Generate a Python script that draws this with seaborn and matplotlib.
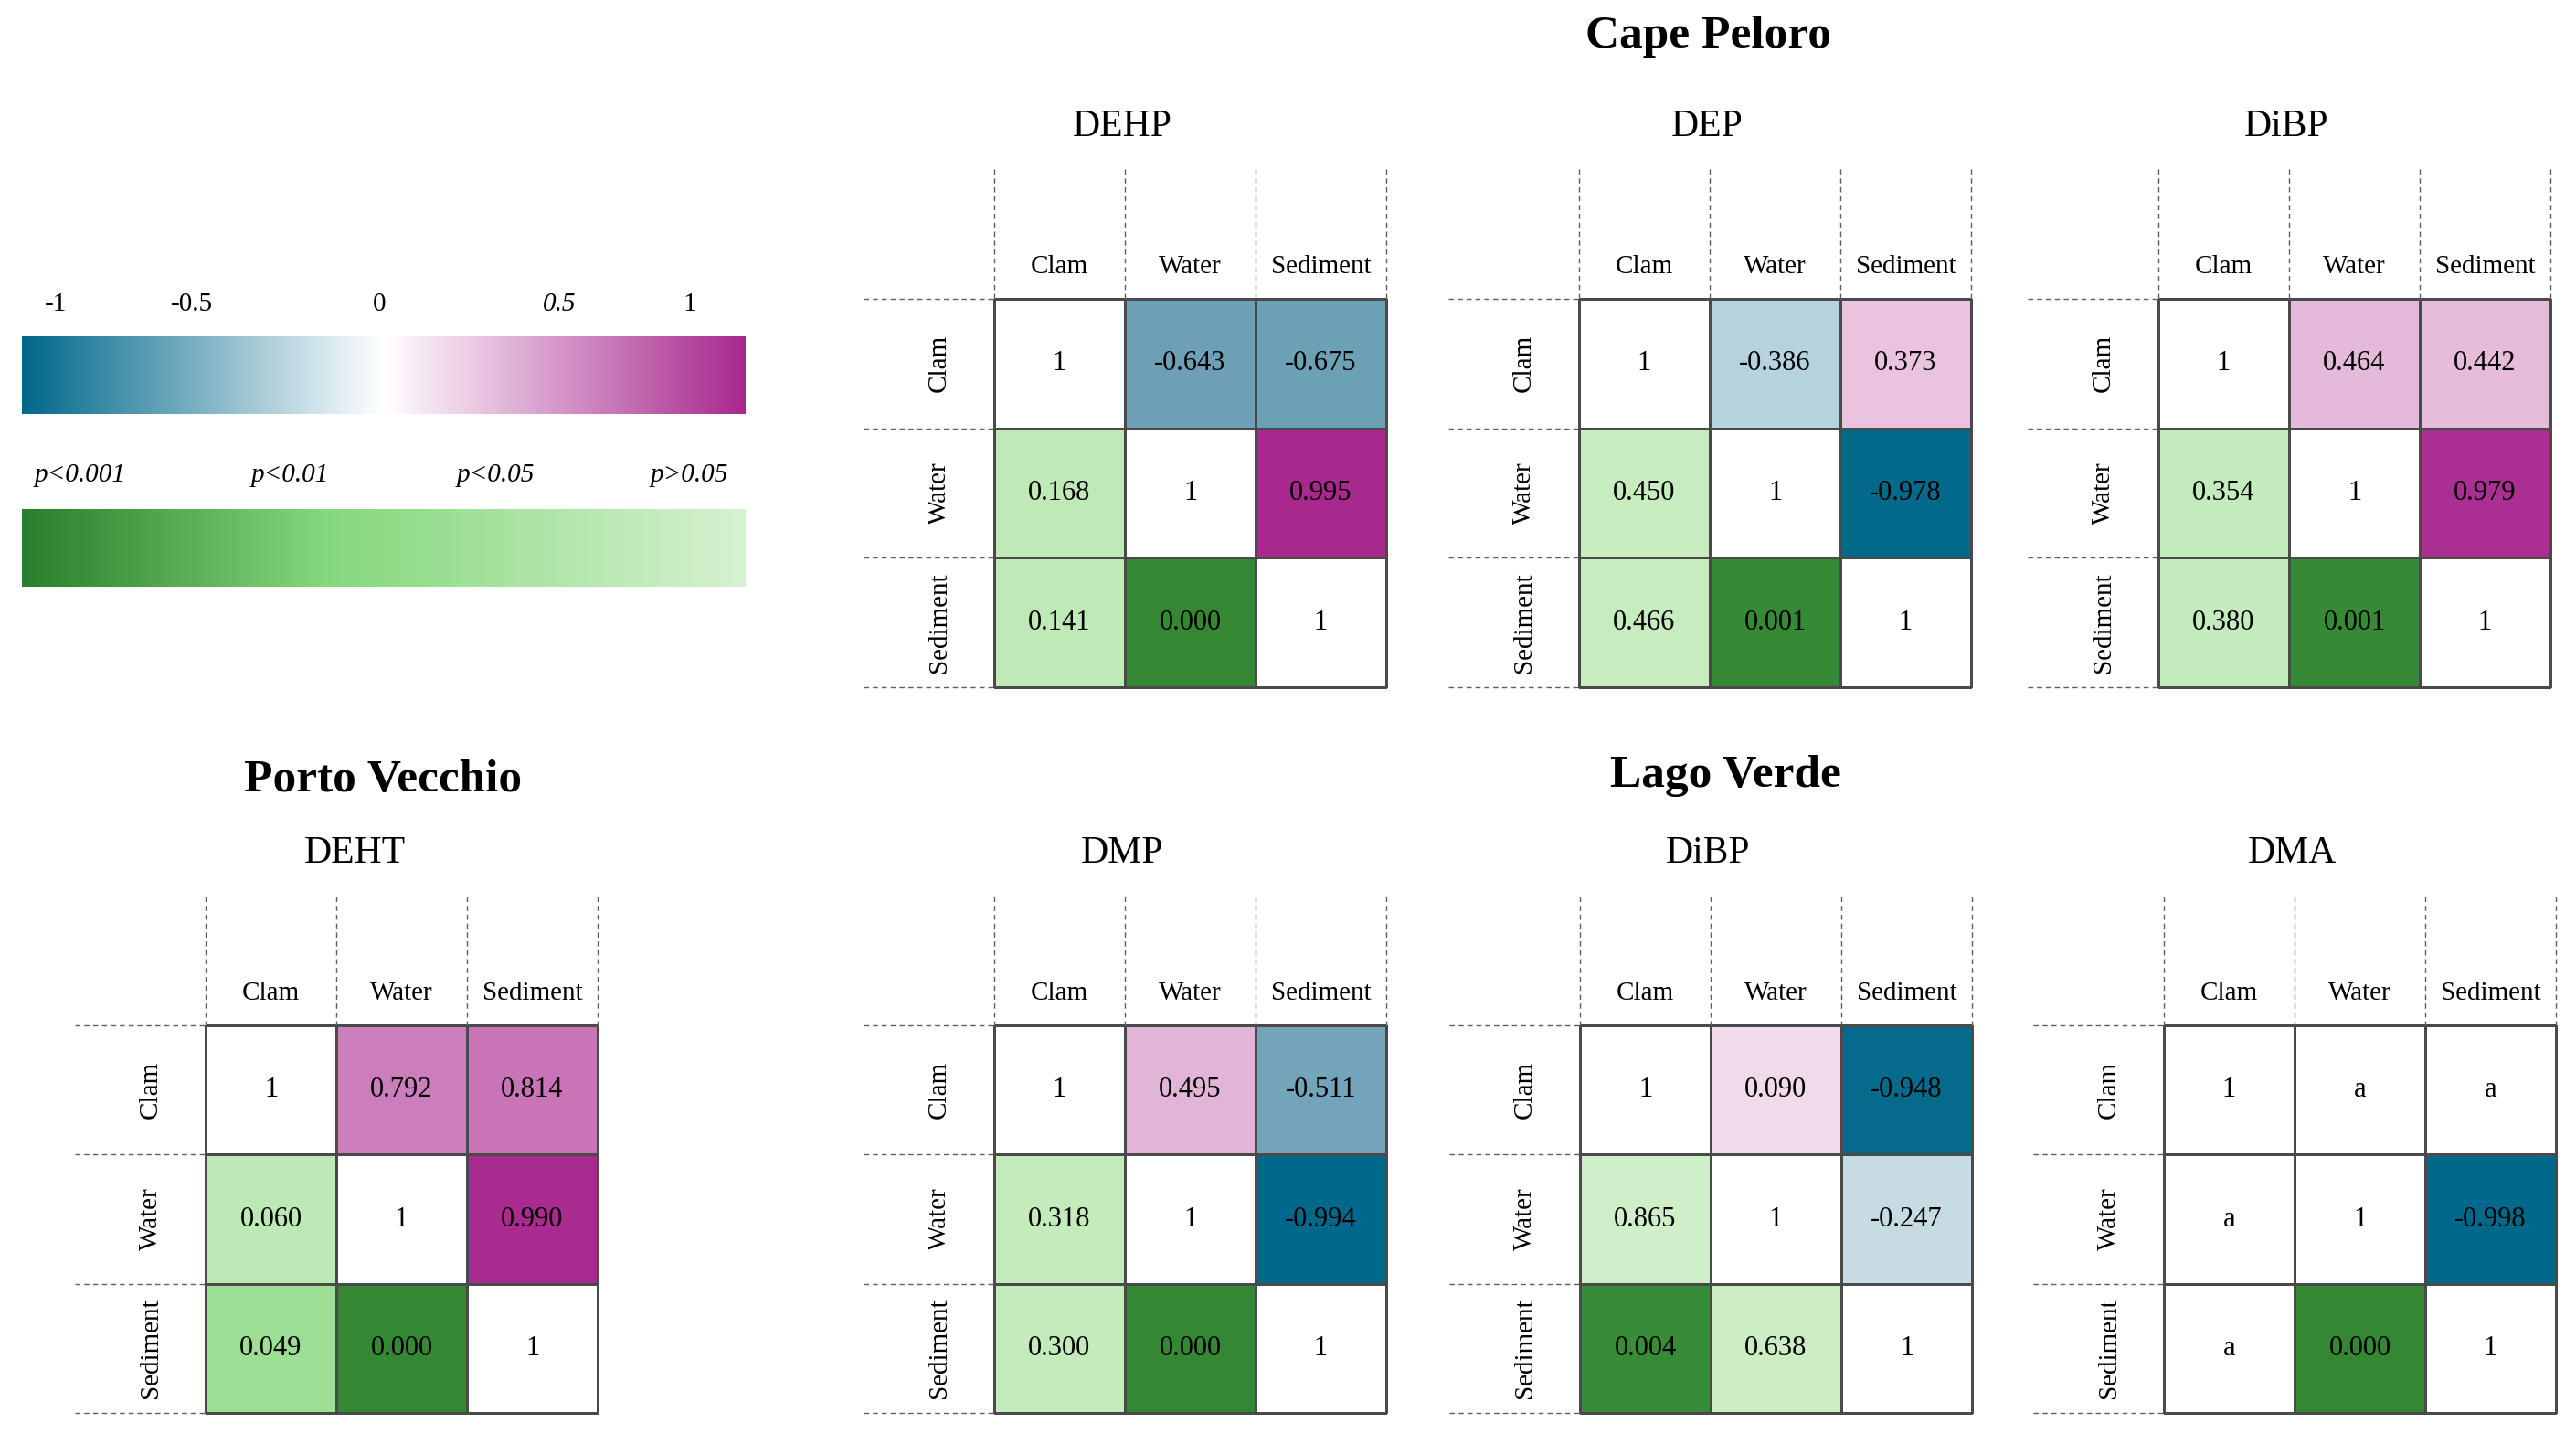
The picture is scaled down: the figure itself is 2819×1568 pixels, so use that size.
import numpy as np
import matplotlib
matplotlib.use("Agg")
import matplotlib.pyplot as plt
import seaborn as sns
from matplotlib.colors import LinearSegmentedColormap, ListedColormap, Normalize
from matplotlib.cm import ScalarMappable

# matrices: sample types
compartments = ["Clam", "Water", "Sediment"]

# correlation coefficients (upper triangle): Clam-Water, Clam-Sediment, Water-Sediment
# p-values (lower triangle): Water-Clam, Sediment-Clam, Sediment-Water
dehp_cape_r = [-0.643, -0.675, 0.995]
dehp_cape_p = [0.168, 0.141, 0.000]
dep_cape_r = [-0.386, 0.373, -0.978]
dep_cape_p = [0.450, 0.466, 0.001]
dibp_cape_r = [0.464, 0.442, 0.979]
dibp_cape_p = [0.354, 0.380, 0.001]
deht_porto_r = [0.792, 0.814, 0.990]
deht_porto_p = [0.060, 0.049, 0.000]
dmp_lago_r = [0.495, -0.511, -0.994]
dmp_lago_p = [0.318, 0.300, 0.000]
dibp_lago_r = [0.090, -0.948, -0.247]
dibp_lago_p = [0.865, 0.004, 0.638]
dma_lago_r = [np.nan, np.nan, -0.998]   # "a" = not computable
dma_lago_p = [np.nan, np.nan, 0.000]

site_titles = ["Cape Peloro", "Porto Vecchio", "Lago Verde"]
r_ticks = ["-1", "-0.5", "0", "0.5", "1"]
p_ticks = ["p<0.001", "p<0.01", "p<0.05", "p>0.05"]

panels = [
    ("DEHP", dehp_cape_r, dehp_cape_p),
    ("DEP", dep_cape_r, dep_cape_p),
    ("DiBP", dibp_cape_r, dibp_cape_p),
    ("DEHT", deht_porto_r, deht_porto_p),
    ("DMP", dmp_lago_r, dmp_lago_p),
    ("DiBP", dibp_lago_r, dibp_lago_p),
    ("DMA", dma_lago_r, dma_lago_p),
]

# layout (figure fraction) of each 3x3 grid
W, H = 2819, 1568
cell_w = 429 / W
top_b, top_h = (H - 752) / H, 425 / H
bot_b, bot_h = (H - 1546) / H, 424 / H
positions = [
    [1088 / W, top_b, cell_w, top_h],
    [1728 / W, top_b, cell_w, top_h],
    [2362 / W, top_b, cell_w, top_h],
    [225 / W, bot_b, cell_w, bot_h],
    [1088 / W, bot_b, cell_w, bot_h],
    [1729 / W, bot_b, cell_w, bot_h],
    [2368 / W, bot_b, cell_w, bot_h],
]
title_x = [0.98, 0.98, 0.98, 1.14, 0.98, 0.98, 0.98]

sns.set_theme(style="white")
plt.rcParams["font.family"] = ["Liberation Serif", "DejaVu Serif"]
plt.rcParams["text.color"] = "black"

# colour scale used for the cells (fitted to the shades in the figure)
r_cmap = LinearSegmentedColormap.from_list("r", [
    (0.0, "#00688a"), (0.05, "#0a6c8c"), (0.15, "#6a9fb5"), (0.25, "#74a4b9"),
    (0.30, "#b5d1db"), (0.375, "#c6dbe2"), (0.5, "#ffffff"), (0.55, "#f0d6e7"),
    (0.70, "#e9c2de"), (0.75, "#e2b4d7"), (0.90, "#cc7cbb"), (1.0, "#a8288e")])
# smooth gradient for the legend bar
r_cmap_legend = LinearSegmentedColormap.from_list("rl", ["#00688a", "#ffffff", "#a8288e"])
p_cmap = LinearSegmentedColormap.from_list(
    "p", [(0, "#2a7d2a"), (0.42, "#84d77b"), (1, "#d6f1d0")])
white_cmap = ListedColormap(["#ffffff"])

# p-value -> position on the green scale (stretched at the significance cut-offs)
p_breaks = [0, 0.01, 0.05, 0.0501, 1.0]
p_pos = [0.05, 0.10, 0.60, 0.82, 0.97]

fig = plt.figure(figsize=(W / 100, H / 100), dpi=100)

for (name, r, p), pos, tx in zip(panels, positions, title_x):
    ax = fig.add_axes(pos)
    r_mat = np.full((3, 3), np.nan)
    p_mat = np.full((3, 3), np.nan)
    r_mat[0, 1], r_mat[0, 2], r_mat[1, 2] = r
    p_mat[1, 0], p_mat[2, 0], p_mat[2, 1] = p

    r_lab = np.vectorize(lambda v: "" if np.isnan(v) else f"{v:.3f}")(r_mat)
    p_lab = np.vectorize(lambda v: "" if np.isnan(v) else f"{v:.3f}")(p_mat)
    p_scaled = np.where(np.isnan(p_mat), np.nan, np.interp(np.nan_to_num(p_mat), p_breaks, p_pos))

    # diagonal and missing cells: white with "1" / "a"
    blank = np.isnan(r_mat) & np.isnan(p_mat)
    blank_lab = np.where(np.eye(3, dtype=bool), "1", "a")
    kws = dict(cbar=False, linewidths=1.0, linecolor="#4a4a4a",
               annot_kws={"fontsize": 22, "color": "black"}, fmt="", ax=ax)
    sns.heatmap(np.zeros((3, 3)), mask=~blank, cmap=white_cmap, annot=blank_lab, **kws)
    sns.heatmap(r_mat, cmap=r_cmap, vmin=-1, vmax=1, annot=r_lab, **kws)
    sns.heatmap(p_scaled, cmap=p_cmap, vmin=0, vmax=1, annot=p_lab, **kws)
    for coll in ax.collections:
        coll.set_clip_on(False)

    ax.set_xticks([])
    ax.set_yticks([])
    for s in ax.spines.values():
        s.set_visible(False)

    # dashed extensions of the grid into the label area
    for k in range(4):
        ax.plot([k, k], [-1, 0], ls=(0, (4, 3)), color="#5e5e5e", lw=1.0, clip_on=False)
        ax.plot([-1, 0], [k, k], ls=(0, (4, 3)), color="#5e5e5e", lw=1.0, clip_on=False)

    for j, lab in enumerate(compartments):
        ax.text(j + 0.5, -0.25, lab, ha="center", va="center", fontsize=21)
        ax.text(-0.42, j + 0.5, lab, ha="center", va="center", rotation=90, fontsize=21)

    ax.text(tx, -1.33, name, ha="center", va="center", fontsize=30)

# site titles
fig.text(1870 / W, 1 - 40 / H, site_titles[0], ha="center", va="center",
         fontsize=37, fontweight="bold")
fig.text(419 / W, 1 - 854 / H, site_titles[1], ha="center", va="center",
         fontsize=37, fontweight="bold")
fig.text(1888 / W, 1 - 849 / H, site_titles[2], ha="center", va="center",
         fontsize=37, fontweight="bold")

# legend bars
cax1 = fig.add_axes([24 / W, (H - 453) / H, 792 / W, 85 / H])
cb1 = fig.colorbar(ScalarMappable(Normalize(-1, 1), r_cmap_legend), cax=cax1,
                   orientation="horizontal")
cax2 = fig.add_axes([24 / W, (H - 642) / H, 792 / W, 85 / H])
cb2 = fig.colorbar(ScalarMappable(Normalize(0, 1), p_cmap), cax=cax2, orientation="horizontal")
for cb in (cb1, cb2):
    cb.set_ticks([])
    cb.outline.set_visible(False)

r_tick_x = [0.047, 0.235, 0.494, 0.742, 0.923]
for x, lab in zip(r_tick_x, r_ticks):
    cax1.text(x, 1.41, lab, ha="center", va="center", fontsize=21,
              transform=cax1.transAxes, style="italic" if lab == "0.5" else "normal")
p_tick_x = [0.081, 0.371, 0.655, 0.922]
for x, lab in zip(p_tick_x, p_ticks):
    cax2.text(x, 1.44, lab, ha="center", va="center", fontsize=21,
              transform=cax2.transAxes, style="italic")

fig.savefig("out.png", dpi=100)
